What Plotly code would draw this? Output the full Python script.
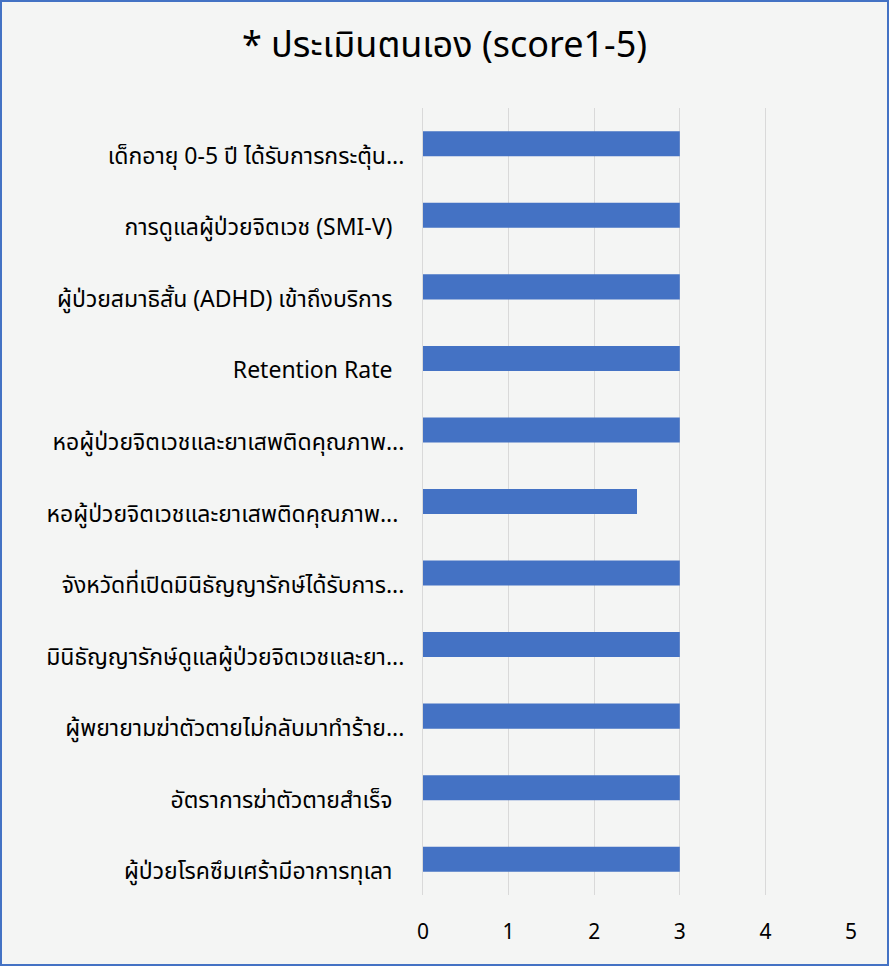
import plotly.graph_objects as go

title = "* ประเมินตนเอง (score1-5)"
categories = [
    "เด็กอายุ 0-5 ปี ได้รับการกระตุ้น...",
    "การดูแลผู้ป่วยจิตเวช (SMI-V)\u00a0\u00a0",
    "ผู้ป่วยสมาธิสั้น (ADHD) เข้าถึงบริการ\u00a0\u00a0",
    "Retention Rate\u00a0\u00a0",
    "หอผู้ป่วยจิตเวชและยาเสพติดคุณภาพ...",
    "หอผู้ป่วยจิตเวชและยาเสพติดคุณภาพ...\u00a0",
    "จังหวัดที่เปิดมินิธัญญารักษ์ได้รับการ...",
    "มินิธัญญารักษ์ดูแลผู้ป่วยจิตเวชและยา...",
    "ผู้พยายามฆ่าตัวตายไม่กลับมาทำร้าย...",
    "อัตราการฆ่าตัวตายสำเร็จ\u00a0\u00a0",
    "ผู้ป่วยโรคซึมเศร้ามีอาการทุเลา\u00a0\u00a0",
]
scores = [3, 3, 3, 3, 3, 2.5, 3, 3, 3, 3, 3]
x_ticks = [0, 1, 2, 3, 4, 5]

W, H = 889, 966
ml, mr, mt, mb = 423, 38, 108, 71
pw, ph = W - ml - mr, H - mt - mb

fig = go.Figure(go.Bar(
    x=scores, y=categories, orientation="h",
    marker=dict(color="#4472c4", line=dict(width=0)),
    hoverinfo="x+y",
))

font = "Noto Sans, Noto Sans Thai, sans-serif"
fig.update_layout(
    width=W, height=H,
    margin=dict(l=ml, r=mr, t=mt, b=mb, pad=0),
    paper_bgcolor="#f4f5f4",
    plot_bgcolor="rgba(0,0,0,0)",
    bargap=0.65,
    showlegend=False,
    title=dict(text=title, x=0.5, xanchor="center", y=1 - 44 / H, yanchor="middle",
               font=dict(family=font, size=36, color="#000000")),
    font=dict(family=font, color="#000000"),
    xaxis=dict(range=[0, 5], tickvals=x_ticks, showgrid=True, gridcolor="#d9d9d9", gridwidth=1,
               zeroline=False, showline=False, ticks="", tickfont=dict(size=21, color="#000000"),
               ticklabelstandoff=22, fixedrange=True),
    yaxis=dict(autorange="reversed", type="category", showgrid=False, zeroline=False,
               showline=True, linecolor="#d9d9d9", linewidth=1,
               ticks="", tickfont=dict(size=23, color="#000000"), ticklabelstandoff=13,
               ticklabelshift=-12, fixedrange=True),
    shapes=[dict(type="rect", xref="paper", yref="paper",
                 x0=(1 - ml) / pw, x1=(W - ml - 1) / pw,
                 y0=-(mb - 1) / ph, y1=1 + (mt - 1) / ph,
                 line=dict(color="#4472c4", width=2), fillcolor="rgba(0,0,0,0)")],
)
fig.write_html("out.html")
